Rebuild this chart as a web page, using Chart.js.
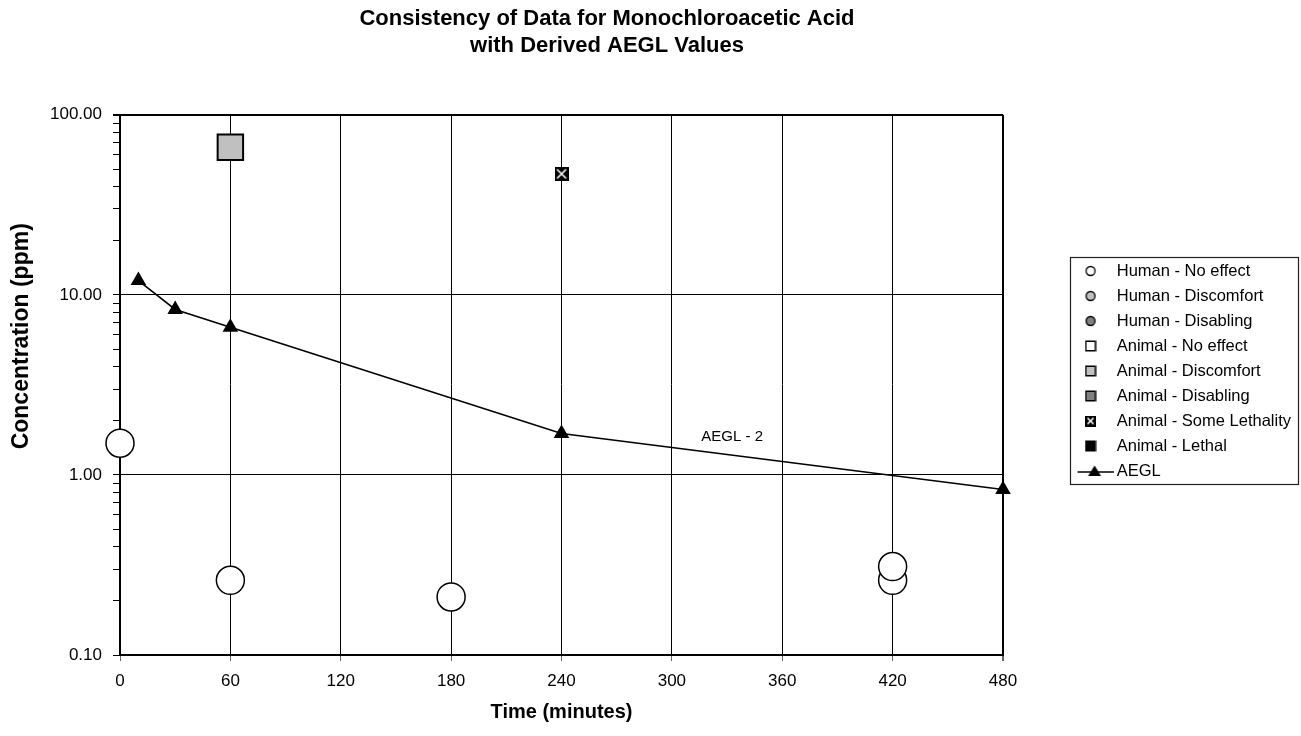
<!DOCTYPE html>
<html>
<head>
<meta charset="utf-8">
<script src="https://cdn.jsdelivr.net/npm/chart.js@4/dist/chart.umd.min.js"></script>
<style>
  html, body { margin: 0; padding: 0; background: #fff; }
  #wrap { width: 1301px; height: 736px; }
</style>
</head>
<body>
<div id="wrap"><canvas id="myChart" width="1301" height="736"></canvas></div>
<script>
const titleLines = ['Consistency of Data for Monochloroacetic Acid', 'with Derived AEGL Values']
const xTitle = 'Time (minutes)'
const yTitle = 'Concentration (ppm)'
const xTicks = [0, 60, 120, 180, 240, 300, 360, 420, 480]
const yDecades = [0.1, 1, 10, 100]
const yTickLabels = ['0.10', '1.00', '10.00', '100.00']

const seriesNames = ['Human - No effect', 'Human - Discomfort', 'Human - Disabling',
    'Animal - No effect', 'Animal - Discomfort', 'Animal - Disabling',
    'Animal - Some Lethality', 'Animal - Lethal', 'AEGL']

const humanNoEffectX = [0, 60, 180, 420, 420]
const humanNoEffectY = [1.5, 0.26, 0.21, 0.26, 0.31]
const animalDiscomfortX = [60]
const animalDiscomfortY = [66]
const animalSomeLethalX = [240]
const animalSomeLethalY = [47]
const aeglX = [10, 30, 60, 240, 480]
const aeglY = [12, 8.3, 6.6, 1.7, 0.83]
const aeglLabel = 'AEGL - 2'
const aeglLabelAt = [316, 1.63]

const FONT = "'Liberation Sans', Arial, sans-serif"
const TITLE_CENTER = 607   // the title sits a bit right of the plot centre

function pts(xs, ys) {
    return xs.map((x, i) => ({x: x, y: ys[i]}))
}

// small canvases used as point styles (legend + the crossed square)
function icon(kind, fill, size) {
    const c = document.createElement('canvas')
    const ctx = c.getContext('2d')
    if (kind === 'line') {
        c.width = 46; c.height = 14
        ctx.strokeStyle = '#000'
        ctx.lineWidth = 1.5
        ctx.beginPath(); ctx.moveTo(10, 8); ctx.lineTo(46, 8); ctx.stroke()
        ctx.fillStyle = '#000'
        ctx.beginPath(); ctx.moveTo(27, 1.5); ctx.lineTo(33.5, 12); ctx.lineTo(20.5, 12); ctx.closePath(); ctx.fill()
        return c
    }
    c.width = size; c.height = size
    const h = size / 2
    if (kind === 'circle') {
        ctx.beginPath(); ctx.arc(h, h, h - 1.5, 0, Math.PI * 2)
        ctx.fillStyle = fill; ctx.fill()
        ctx.lineWidth = 1.3; ctx.strokeStyle = '#000'; ctx.stroke()
    } else if (kind === 'square') {
        ctx.fillStyle = fill
        ctx.fillRect(1, 1, size - 2, size - 2)
        ctx.lineWidth = 1.5; ctx.strokeStyle = '#000'
        ctx.strokeRect(1.25, 1.25, size - 2.5, size - 2.5)
    } else if (kind === 'cross') {
        ctx.fillStyle = '#000'
        ctx.fillRect(0, 0, size, size)
        ctx.strokeStyle = '#fff'; ctx.lineWidth = 1.6
        ctx.beginPath()
        ctx.moveTo(2.5, 2.5); ctx.lineTo(size - 2.5, size - 2.5)
        ctx.moveTo(size - 2.5, 2.5); ctx.lineTo(2.5, size - 2.5)
        ctx.stroke()
    }
    return c
}

const legendIcons = [
    icon('circle', '#ffffff', 12), icon('circle', '#c0c0c0', 12), icon('circle', '#808080', 12),
    icon('square', '#ffffff', 12), icon('square', '#c0c0c0', 12), icon('square', '#808080', 12),
    icon('cross', null, 11), icon('square', '#000000', 12), icon('line')
]
const crossMarker = icon('cross', null, 14)

function logTicks() {
    const out = []
    for (let d = 0; d < yDecades.length - 1; d++) {
        for (let m = 1; m < 10; m++) {
            out.push({value: m === 1 ? yDecades[d] : parseFloat((m * yDecades[d]).toPrecision(10))})
        }
    }
    out.push({value: yDecades[yDecades.length - 1]})
    return out
}

const extras = {
    id: 'extras',
    afterLayout(chart) {
        const t = chart.titleBlock
        if (!t) return
        const shift = TITLE_CENTER - (t.left + t.right) / 2
        t.left += shift
        t.right += shift
    },
    afterDatasetsDraw(chart) {
        const ctx = chart.ctx
        const px = chart.scales.x.getPixelForValue(aeglLabelAt[0])
        const py = chart.scales.y.getPixelForValue(aeglLabelAt[1])
        ctx.save()
        ctx.font = '15px ' + FONT
        ctx.fillStyle = '#000'
        ctx.textAlign = 'left'
        ctx.textBaseline = 'middle'
        ctx.fillText(aeglLabel, px, py)
        ctx.restore()
    },
    afterDraw(chart) {
        const ctx = chart.ctx
        const area = chart.chartArea

        // y axis title, placed a little above the middle of the axis like the original
        ctx.save()
        ctx.translate(22, area.top + (area.bottom - area.top) * 0.41)
        ctx.rotate(-Math.PI / 2)
        ctx.font = 'bold 23px ' + FONT
        ctx.fillStyle = '#000'
        ctx.textAlign = 'center'
        ctx.textBaseline = 'middle'
        ctx.fillText(yTitle, 0, 0)
        ctx.restore()

        // frame around the legend
        const lg = chart.legend
        const pad = lg.options.labels.padding
        const colH = lg.columnSizes[0].height
        const y0 = (lg.top + pad + lg.bottom - colH) / 2
        ctx.save()
        ctx.strokeStyle = '#222'
        ctx.lineWidth = 1.2
        ctx.strokeRect(Math.round(lg.left + 6) + 0.5, Math.round(y0 - 6) + 0.5,
            Math.round(lg.right - lg.left - 9), Math.round(colH - pad + 10))
        ctx.restore()
    }
}

const datasets = [
    {data: pts(humanNoEffectX, humanNoEffectY), pointStyle: 'circle', pointRadius: 14, pointBackgroundColor: '#fff'},
    {data: [], pointStyle: 'circle', pointRadius: 14, pointBackgroundColor: '#c0c0c0'},
    {data: [], pointStyle: 'circle', pointRadius: 14, pointBackgroundColor: '#808080'},
    {data: [], pointStyle: 'rect', pointRadius: 18, pointBackgroundColor: '#fff'},
    {data: pts(animalDiscomfortX, animalDiscomfortY), pointStyle: 'rect', pointRadius: 18, pointBackgroundColor: '#c0c0c0', pointBorderWidth: 2},
    {data: [], pointStyle: 'rect', pointRadius: 18, pointBackgroundColor: '#808080'},
    {data: pts(animalSomeLethalX, animalSomeLethalY), pointStyle: crossMarker, pointRadius: 7},
    {data: [], pointStyle: 'rect', pointRadius: 18, pointBackgroundColor: '#000'},
    {data: pts(aeglX, aeglY), showLine: true, borderColor: '#000', borderWidth: 1.6, pointStyle: 'triangle',
        pointRadius: 9, pointBackgroundColor: '#000', pointBorderWidth: 0}
].map((ds, i) => Object.assign({
    label: seriesNames[i],
    showLine: false,
    pointBorderColor: '#000',
    pointBorderWidth: 1.5,
    clip: false
}, ds))

Chart.defaults.color = '#000'
Chart.defaults.font.family = FONT

new Chart(document.getElementById('myChart').getContext('2d'), {
    type: 'scatter',
    data: {datasets: datasets},
    options: {
        responsive: false,
        devicePixelRatio: 1,
        animation: false,
        layout: {padding: {top: 6, right: 0, bottom: 0, left: 0}},
        plugins: {
            tooltip: {enabled: false},
            title: {
                display: true,
                text: titleLines,
                fullSize: false,
                font: {size: 22, weight: 'bold'},
                padding: {top: 0, bottom: 56},
                color: '#000'
            },
            legend: {
                display: true,
                position: 'right',
                fullSize: true,
                maxWidth: 320,
                labels: {
                    usePointStyle: true,
                    pointStyleWidth: 36,
                    padding: 8.5,
                    color: '#000',
                    font: {size: 16.5},
                    generateLabels: chart => chart.data.datasets.map((ds, i) => ({
                        text: ds.label,
                        pointStyle: legendIcons[i],
                        fillStyle: '#000',
                        strokeStyle: '#000',
                        lineWidth: 0,
                        hidden: false,
                        datasetIndex: i,
                        fontColor: '#000'
                    }))
                }
            }
        },
        scales: {
            x: {
                type: 'linear',
                position: 'bottom',
                min: 0,
                max: 480,
                afterBuildTicks: s => { s.ticks = xTicks.map(v => ({value: v})) },
                afterFit: s => { s.height = 81 },
                ticks: {autoSkip: false, maxRotation: 0, padding: 10, font: {size: 17}, color: '#000'},
                grid: {
                    color: '#000',
                    lineWidth: c => (c.tick && c.tick.value === 480) ? 2 : 1,
                    tickColor: '#666',
                    tickLength: 6
                },
                border: {color: '#000', width: 2},
                title: {display: true, text: xTitle, font: {size: 20, weight: 'bold'}, padding: {top: 0, bottom: 12}, color: '#000'}
            },
            y: {
                type: 'logarithmic',
                position: 'left',
                min: 0.1,
                max: 100,
                afterBuildTicks: s => { s.ticks = logTicks() },
                afterFit: s => { s.width = 120 },
                ticks: {
                    autoSkip: false,
                    padding: 11,
                    font: {size: 17},
                    color: '#000',
                    callback: v => {
                        const i = yDecades.indexOf(v)
                        return i >= 0 ? yTickLabels[i] : ''
                    }
                },
                grid: {
                    color: c => (c.tick && yDecades.includes(c.tick.value)) ? '#000' : 'rgba(0,0,0,0)',
                    lineWidth: c => (c.tick && c.tick.value === 100) ? 2 : 1,
                    tickColor: '#000',
                    tickLength: 7
                },
                border: {color: '#000', width: 2},
                title: {display: false}
            },
            gap: {
                type: 'linear',
                position: 'right',
                display: true,
                grid: {display: false},
                border: {display: false},
                ticks: {display: false},
                afterFit: s => { s.width = 61 }
            }
        }
    },
    plugins: [extras]
})
</script>
</body>
</html>
